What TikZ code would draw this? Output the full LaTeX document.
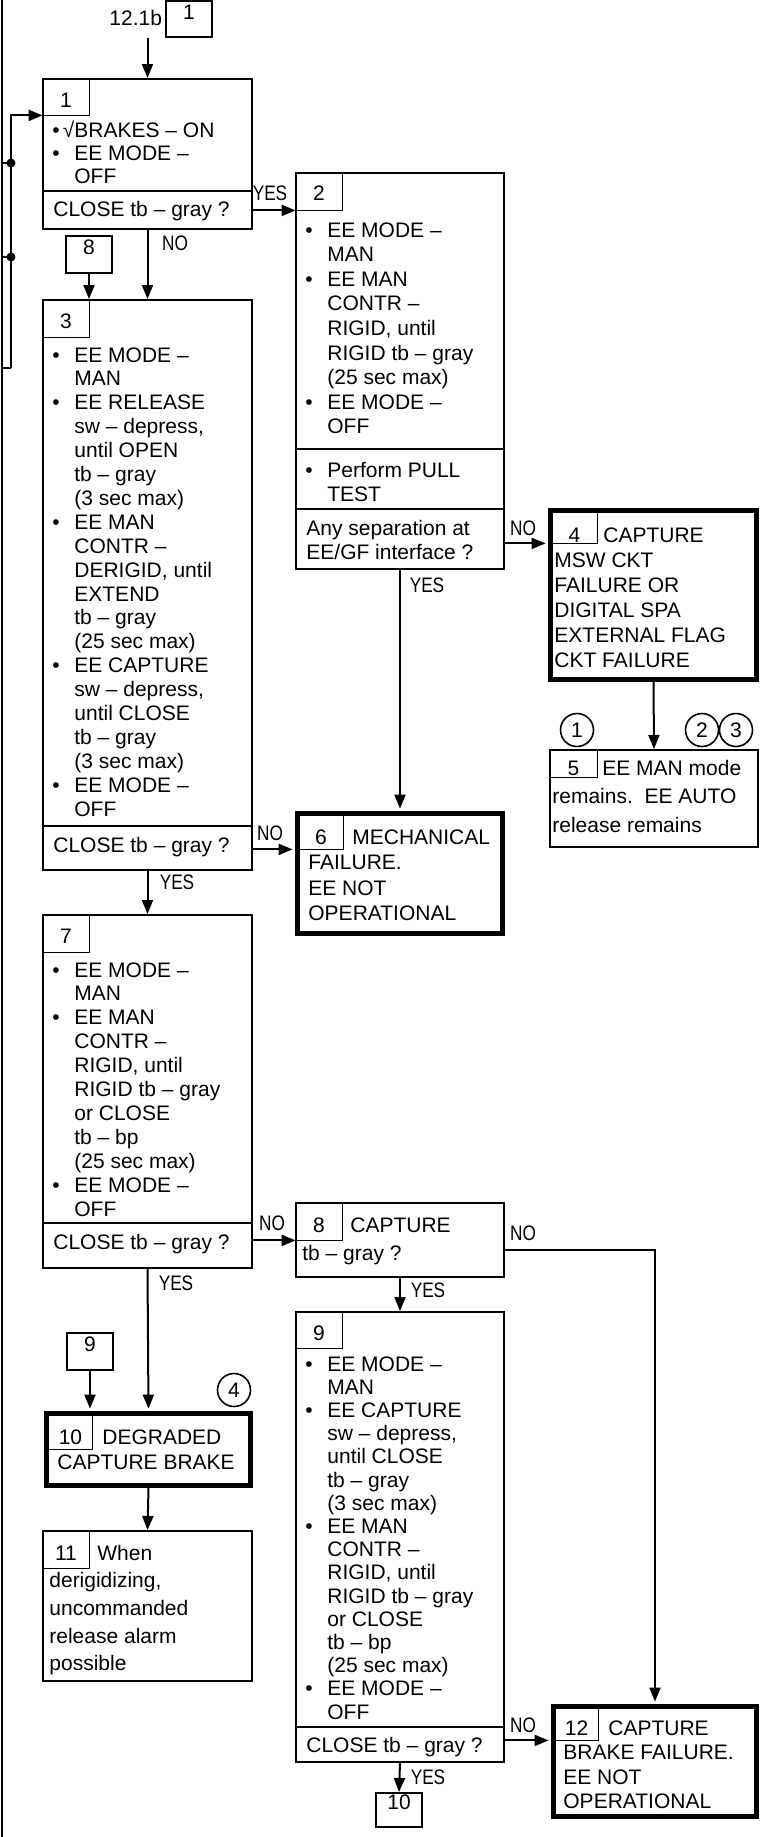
\documentclass[tikz,border=0pt]{standalone}
\usepackage{fontspec}
\setmainfont{Liberation Sans}
\newfontfamily\condf[FakeStretch=0.82]{Liberation Sans}
\usetikzlibrary{arrows.meta,fit}
\newcommand{\Bul}[1]{\makebox[11pt][l]{•}#1}
\newcommand{\Cnt}[1]{\hspace*{11pt}#1}
\newcommand{\Blk}[2]{\parbox[t]{200pt}{\fontsize{10.5}{#1}\selectfont #2}}
\tikzset{
  box/.style={draw, line width=1pt, inner sep=0pt},
  thickbox/.style={draw, line width=2.4pt, inner sep=0pt},
  tabn/.style={inner sep=0pt},
  tabl/.style={line width=0.8pt},
  ln/.style={line width=1pt},
  arr/.style={line width=1pt, -{Triangle[length=7pt,width=5.5pt]}},
  arrT/.style={arr, shorten >=1.2pt},
  yn/.style={font=\condf\fontsize{10.5}{11}\selectfont, inner sep=0pt},
  num/.style={font=\fontsize{10.5}{12}\selectfont, inner sep=0pt, anchor=base},
  txt/.style={inner sep=0pt, anchor=base west},
  circ/.style={draw, circle, line width=0.8pt, minimum size=16.5pt, inner sep=0pt, font=\fontsize{10.5}{12}\selectfont},
  dot/.style={circle, fill, inner sep=0pt, minimum size=4.5pt}
}
\begin{document}
\begin{tikzpicture}[x=0.5pt, y=-0.5pt]
\useasboundingbox (0,0) rectangle (764,1837);

% left edge line and feedback loop
\coordinate (L0) at (1.5,0);
\coordinate (L1) at (1.5,1837);
\draw[ln] (L0) -- (L1);
\coordinate (fbL) at (1.5,368);
\coordinate (fbA) at (11,368);
\coordinate (s1) at (1.5,163);
\coordinate (s2) at (1.5,257);
\node[dot] (d1) at (11,163) {};
\node[dot] (d2) at (11,257) {};
\draw[ln] (s1) -- (d1.center);
\draw[ln] (s2) -- (d2.center);
\draw[ln] (fbL) -- (fbA);

% top connector
\node[txt, font=\fontsize{10.5}{12}\selectfont] (lbl) at (109,25) {12.1b};
\node[box, fit={(166,1) (212,37)}, font=\fontsize{10.5}{12}\selectfont] (c1) {1};
\coordinate (c1src) at (148,38);

% ---------- Box 1
\node[box, fit={(43,79) (252,229)}] (b1) {};
\node[tabn, fit={(43,79) (89,115)}] (t1) {};
\draw[tabl] (t1.north east) -- (t1.south east) -- (t1.south west);
\node[num] (n1) at (66,107) {1};
\draw[ln] (43,191) -- (252,191);
\node[txt] (b1x) at (52,137) {\Blk{11.5pt}{\makebox[11pt][l]{•}\llap{√}BRAKES – ON\\ \Bul{EE MODE –}\\ \Cnt{OFF}}};
\node[txt] (b1q) at (53,216.5) {\Blk{12pt}{CLOSE tb – gray ?}};

% ---------- connector 8
\node[box, fit={(66,236) (112,273)}, font=\fontsize{10.5}{12}\selectfont] (c8) {8};

% ---------- Box 2
\node[box, fit={(296,173) (504,569)}] (b2) {};
\node[tabn, fit={(296,173) (342,210)}] (t2) {};
\draw[tabl] (t2.north east) -- (t2.south east) -- (t2.south west);
\node[num] (n2) at (319,200) {2};
\draw[ln] (296,449) -- (504,449);
\draw[ln] (296,509) -- (504,509);
\node[txt] (b2x) at (305,237) {\Blk{12.3pt}{\Bul{EE MODE –}\\ \Cnt{MAN}\\ \Bul{EE MAN}\\ \Cnt{CONTR –}\\ \Cnt{RIGID, until}\\ \Cnt{RIGID tb – gray}\\ \Cnt{(25 sec max)}\\ \Bul{EE MODE –}\\ \Cnt{OFF}}};
\node[txt] (b2y) at (305,477) {\Blk{12pt}{\Bul{Perform PULL}\\ \Cnt{TEST}}};
\node[txt] (b2q) at (306,535) {\Blk{12pt}{Any separation at\\ EE/GF interface ?}};

% ---------- Box 3
\node[box, fit={(43,300) (252,870)}] (b3) {};
\node[tabn, fit={(43,300) (89,337)}] (t3) {};
\draw[tabl] (t3.north east) -- (t3.south east) -- (t3.south west);
\node[num] (n3) at (66,328) {3};
\draw[ln] (43,826) -- (252,826);
\node[txt] (b3x) at (52,362) {\Blk{11.95pt}{\Bul{EE MODE –}\\ \Cnt{MAN}\\ \Bul{EE RELEASE}\\ \Cnt{sw – depress,}\\ \Cnt{until OPEN}\\ \Cnt{tb – gray}\\ \Cnt{(3 sec max)}\\ \Bul{EE MAN}\\ \Cnt{CONTR –}\\ \Cnt{DERIGID, until}\\ \Cnt{EXTEND}\\ \Cnt{tb – gray}\\ \Cnt{(25 sec max)}\\ \Bul{EE CAPTURE}\\ \Cnt{sw – depress,}\\ \Cnt{until CLOSE}\\ \Cnt{tb – gray}\\ \Cnt{(3 sec max)}\\ \Bul{EE MODE –}\\ \Cnt{OFF}}};
\node[txt] (b3q) at (53,852) {\Blk{12pt}{CLOSE tb – gray ?}};

% ---------- Box 4
\node[thickbox, fit={(550.4,510.4) (756.6,679.6)}] (b4) {};
\node[tabn, fit={(550.4,510.4) (597,543)}] (t4) {};
\draw[tabl] (t4.north east) -- (t4.south east) -- (t4.south west);
\node[num] (n4) at (574.5,542) {4};
\node[txt] (b4x) at (554,542) {\Blk{12.5pt}{\hspace*{24.5pt}CAPTURE\\ MSW CKT\\ FAILURE OR\\ DIGITAL SPA\\ EXTERNAL FLAG\\ CKT FAILURE}};

% ---------- Box 5
\node[box, fit={(550,750) (758,847)}] (b5) {};
\node[tabn, fit={(550,750) (597,777)}] (t5) {};
\draw[tabl] (t5.north east) -- (t5.south east) -- (t5.south west);
\node[num] (n5) at (573.5,775) {5};
\node[txt] (b5x) at (552,775) {\Blk{14.25pt}{\hspace*{25pt}EE MAN mode\\ remains.\ \ EE AUTO\\ release remains}};
\node[circ] (k1) at (577,730) {1};
\node[circ] (k2) at (702,730) {2};
\node[circ] (k3) at (736,730) {3};

% ---------- Box 6
\node[thickbox, fit={(297.4,813.4) (502.6,933.6)}] (b6) {};
\node[tabn, fit={(297.4,813.4) (343,849)}] (t6) {};
\draw[tabl] (t6.north east) -- (t6.south east) -- (t6.south west);
\node[num] (n6) at (321,844) {6};
\node[txt] (b6x) at (308,844) {\Blk{12.75pt}{\hspace*{22pt}MECHANICAL\\ FAILURE.\\ EE NOT\\ OPERATIONAL}};

% ---------- Box 7
\node[box, fit={(43,915) (252,1268)}] (b7) {};
\node[tabn, fit={(43,915) (89,952)}] (t7) {};
\draw[tabl] (t7.north east) -- (t7.south east) -- (t7.south west);
\node[num] (n7) at (66,943) {7};
\draw[ln] (43,1223) -- (252,1223);
\node[txt] (b7x) at (52,977) {\Blk{11.95pt}{\Bul{EE MODE –}\\ \Cnt{MAN}\\ \Bul{EE MAN}\\ \Cnt{CONTR –}\\ \Cnt{RIGID, until}\\ \Cnt{RIGID tb – gray}\\ \Cnt{or CLOSE}\\ \Cnt{tb – bp}\\ \Cnt{(25 sec max)}\\ \Bul{EE MODE –}\\ \Cnt{OFF}}};
\node[txt] (b7q) at (53,1249) {\Blk{12pt}{CLOSE tb – gray ?}};

% ---------- Box 8
\node[box, fit={(296,1203) (504,1277)}] (b8) {};
\node[tabn, fit={(296,1203) (342,1240)}] (t8) {};
\draw[tabl] (t8.north east) -- (t8.south east) -- (t8.south west);
\node[num] (n8) at (319,1232) {8};
\node[txt] (b8x) at (302,1232) {\Blk{14pt}{\hspace*{24pt}CAPTURE\\ tb – gray ?}};

% ---------- Box 9
\node[box, fit={(296,1312) (504,1762)}] (b9) {};
\node[tabn, fit={(296,1312) (342,1348)}] (t9) {};
\draw[tabl] (t9.north east) -- (t9.south east) -- (t9.south west);
\node[num] (n9) at (319,1340) {9};
\draw[ln] (296,1727) -- (504,1727);
\node[txt] (b9x) at (305,1371) {\Blk{11.6pt}{\Bul{EE MODE –}\\ \Cnt{MAN}\\ \Bul{EE CAPTURE}\\ \Cnt{sw – depress,}\\ \Cnt{until CLOSE}\\ \Cnt{tb – gray}\\ \Cnt{(3 sec max)}\\ \Bul{EE MAN}\\ \Cnt{CONTR –}\\ \Cnt{RIGID, until}\\ \Cnt{RIGID tb – gray}\\ \Cnt{or CLOSE}\\ \Cnt{tb – bp}\\ \Cnt{(25 sec max)}\\ \Bul{EE MODE –}\\ \Cnt{OFF}}};
\node[txt] (b9q) at (306,1752) {\Blk{12pt}{CLOSE tb – gray ?}};

% ---------- connector 9, Box 10
\node[box, fit={(67,1333) (113,1370)}, font=\fontsize{10.5}{12}\selectfont] (c9) {9};
\node[thickbox, fit={(46.4,1413.4) (250.6,1485.6)}] (b10) {};
\node[tabn, fit={(46.4,1413.4) (92,1449)}] (t10) {};
\draw[tabl] (t10.north east) -- (t10.south east) -- (t10.south west);
\node[num] (n10) at (70.5,1444) {10};
\node[txt] (b10x) at (57,1444) {\Blk{12.5pt}{\hspace*{22.5pt}DEGRADED\\ CAPTURE BRAKE}};
\node[circ] (k4) at (234,1390) {4};

% ---------- Box 11
\node[box, fit={(43,1531) (252,1681)}] (b11) {};
\node[tabn, fit={(43,1531) (89,1568)}] (t11) {};
\draw[tabl] (t11.north east) -- (t11.south east) -- (t11.south west);
\node[num] (n11) at (66,1560) {11};
\node[txt] (b11x) at (49,1560) {\Blk{13.85pt}{\hspace*{24pt}When\\ derigidizing,\\ uncommanded\\ release alarm\\ possible}};

% ---------- Box 12
\node[thickbox, fit={(553.4,1706.4) (756.6,1816.6)}] (b12) {};
\node[tabn, fit={(553.4,1706.4) (598,1740)}] (t12) {};
\draw[tabl] (t12.north east) -- (t12.south east) -- (t12.south west);
\node[num] (n12) at (576.5,1735) {12};
\node[txt] (b12x) at (563,1735) {\Blk{12.25pt}{\hspace*{22.5pt}CAPTURE\\ BRAKE FAILURE.\\ EE NOT\\ OPERATIONAL}};

% ---------- connector 10
\node[box, fit={(376,1793) (422,1827)}, font=\fontsize{10.5}{12}\selectfont] (c10) {10};

% ---------- connectors
\draw[arr] (b1.north |- c1src) -- (b1.north);
\draw[arr] (fbA) |- (t1.south west);
\draw[arr] (b1.east |- t2.south) -- (t2.south west);
\draw[arr] (b1.south) -- (b3.north);
\draw[arr] (c8.south) -- (c8.south |- b3.north);
\draw[arrT] (b2.east |- t4.south) -- (b4.west |- t4.south);
\draw[arrT] (b2.south) -- (b6.north);
\draw[arr] (b4.south) -- (b5.north);
\draw[arrT] (b3.east |- t6.south) -- (b6.west |- t6.south);
\draw[arr] (b3.south) -- (b7.north);
\draw[arr] (b7.east |- t8.south) -- (t8.south west);
\draw[arrT] (b7.south) -- (b10.north);
\draw[arrT] (c9.south) -- (c9.south |- b10.north);
\draw[arr] (b10.south) -- (b11.north);
\draw[arr] (b8.south) -- (b9.north);
\draw[arrT] ([yshift=-5pt]b8.east) -| (b12.north);
\draw[arrT] (b9.east |- t12.south) -- (b12.west |- t12.south);
\draw[arr] (b9.south) -- (c10.north);

% ---------- YES / NO labels
\node[yn] (y1) at (270,193) {YES};
\node[yn] (y2) at (175,243) {NO};
\node[yn] (y3) at (523,528) {NO};
\node[yn] (y4) at (427,585) {YES};
\node[yn] (y5) at (270,833) {NO};
\node[yn] (y6) at (177,882) {YES};
\node[yn] (y7) at (272,1223) {NO};
\node[yn] (y8) at (176,1283) {YES};
\node[yn] (y9) at (523,1233) {NO};
\node[yn] (y10) at (428,1290) {YES};
\node[yn] (y11) at (523,1725) {NO};
\node[yn] (y12) at (428,1777) {YES};
\end{tikzpicture}
\end{document}
